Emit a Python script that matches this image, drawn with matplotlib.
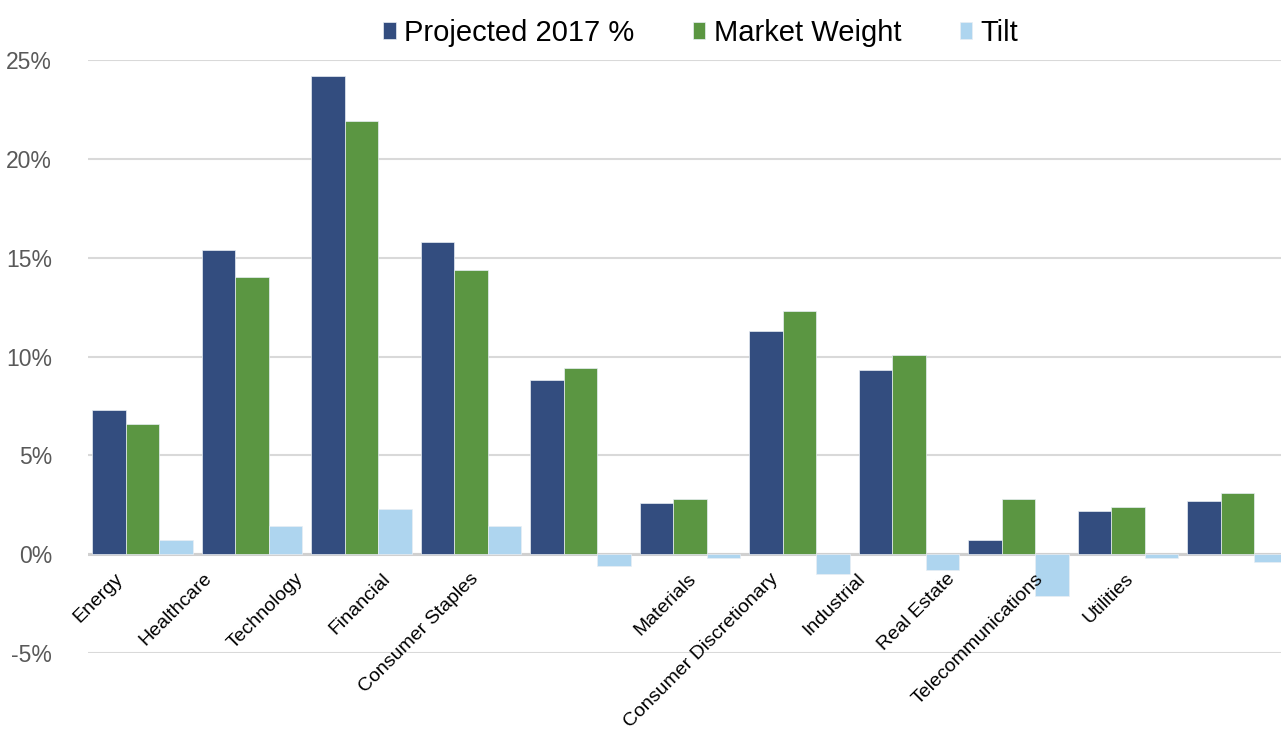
import matplotlib
matplotlib.use("Agg")
import matplotlib.pyplot as plt
import numpy as np

# datos del grafico (en %)
sectores = ["Energy", "Healthcare", "Technology", "Financial", "Consumer Staples",
            "Materials", "Consumer Discretionary", "Industrial", "Real Estate",
            "Telecommunications", "Utilities"]
proyectado = [7.3, 15.4, 24.2, 15.8, 8.8, 2.6, 11.3, 9.3, 0.7, 2.2, 2.7]
peso_mercado = [6.6, 14.0, 21.9, 14.4, 9.4, 2.8, 12.3, 10.1, 2.8, 2.4, 3.1]
inclinacion = [0.7, 1.4, 2.3, 1.4, -0.6, -0.2, -1.0, -0.8, -2.1, -0.2, -0.4]
series = ["Projected 2017 %", "Market Weight", "Tilt"]

# estilo
colores = ["#334D7F", "#5B9642", "#AED5EF"]
# corrimiento de cada etiqueta del eje x (en unidades de categoria)
corrimiento = [0.26, 0.45, 0.61, 0.82, 1.01, 0.02, 0.27, 0.48, 0.66, 0.85, 1.03]

plt.rcParams['font.family'] = ['Liberation Sans', 'DejaVu Sans']

fig = plt.figure(figsize=(12.81, 7.29), dpi=100)
ax = fig.add_axes([88/1281, 76/729, 1204/1281, 593/729])

x = np.arange(len(sectores))
ancho = 0.306
for j, valores in enumerate([proyectado, peso_mercado, inclinacion]):
    ax.bar(x + (j - 1)*ancho, valores, ancho, color=colores[j],
           edgecolor="#E8EEF4", linewidth=0.5, label=series[j], zorder=3)

ax.set_xlim(-0.5, len(sectores) - 0.5)
ax.set_ylim(-5, 25)
ax.set_yticks(range(-5, 30, 5))
ax.set_yticklabels(["{}%".format(v) for v in range(-5, 30, 5)])
ax.tick_params(axis='y', length=0, pad=26, labelsize=16.5, labelcolor="#595959")
ax.set_xticks([])
for s in ax.spines.values():
    s.set_visible(False)

ax.grid(axis='y', color="#D9D9D9", linewidth=1.5, zorder=0)
ax.axhline(0, color="#D0D0D0", linewidth=2.2, zorder=2)

# etiquetas rotadas junto al eje cero
for i, nombre in enumerate(sectores):
    ax.text(x[i] - corrimiento[i], -0.8, nombre, rotation=45, rotation_mode='anchor',
            ha='right', va='top', fontsize=14, color="black")

fig.legend(loc='upper center', bbox_to_anchor=(701/1281, 1.01), ncol=3,
           frameon=False, fontsize=21, handlelength=0.42, handleheight=0.5,
           handletextpad=0.3, columnspacing=2.0)

fig.savefig("out.png", dpi=100)
